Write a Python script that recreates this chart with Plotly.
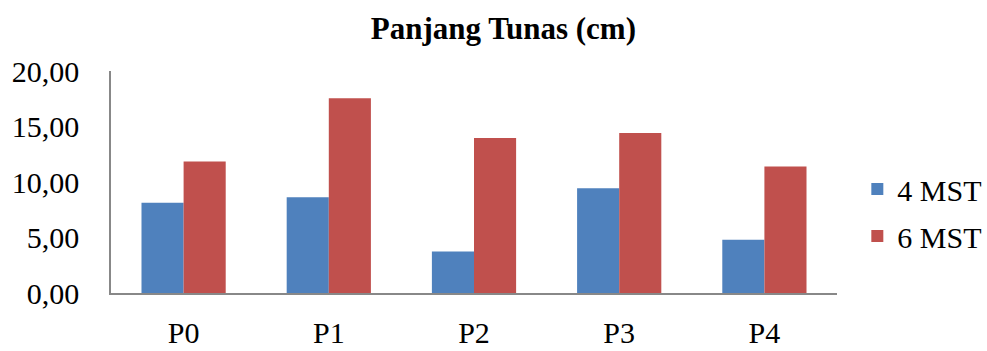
import plotly.graph_objects as go

categories = ["P0", "P1", "P2", "P3", "P4"]
mst4 = [8.14, 8.62, 3.74, 9.44, 4.79]
mst6 = [11.85, 17.54, 13.96, 14.41, 11.39]
series_names = ["4 MST", "6 MST"]
colors = ["#4F81BD", "#C0504D"]

FONT = "Liberation Serif"

fig = go.Figure()
for i, (name, vals) in enumerate(zip(series_names, [mst4, mst6])):
    fig.add_trace(go.Bar(
        x=categories, y=vals, name=name,
        marker=dict(color=colors[i], line=dict(width=0)),
        legendgroup=name,
    ))

fig.update_layout(
    width=987, height=351,
    margin=dict(l=111, r=150, t=71, b=58, autoexpand=False),
    paper_bgcolor="white", plot_bgcolor="white",
    separators=",.",
    barmode="group", bargap=0.42, bargroupgap=0,
    font=dict(family=FONT, size=30, color="black"),
    title=dict(text="<b>Panjang Tunas (cm)</b>", x=0.51, xanchor="center",
               y=0.92, yanchor="middle", font=dict(family=FONT, size=31)),
    legend=dict(x=1.028, xanchor="left", y=0.363, yanchor="middle",
                font=dict(family=FONT, size=30), tracegroupgap=5,
                bgcolor="rgba(0,0,0,0)"),
    showlegend=True,
)
fig.update_xaxes(showline=True, linecolor="#888888", linewidth=1.5,
                 showgrid=False, ticks="outside", ticklen=12, automargin=False,
                 tickcolor="rgba(0,0,0,0)", tickfont=dict(size=30))
fig.update_yaxes(range=[0, 20], dtick=5, tickformat=".2f", automargin=False,
                 showline=True, linecolor="#888888", linewidth=1.5,
                 showgrid=False, zeroline=False, ticks="outside", ticklen=24,
                 tickcolor="rgba(0,0,0,0)", tickfont=dict(size=30))

fig.write_html("out.html", config={"displayModeBar": False},
               post_script="document.body.style.margin='0';")
